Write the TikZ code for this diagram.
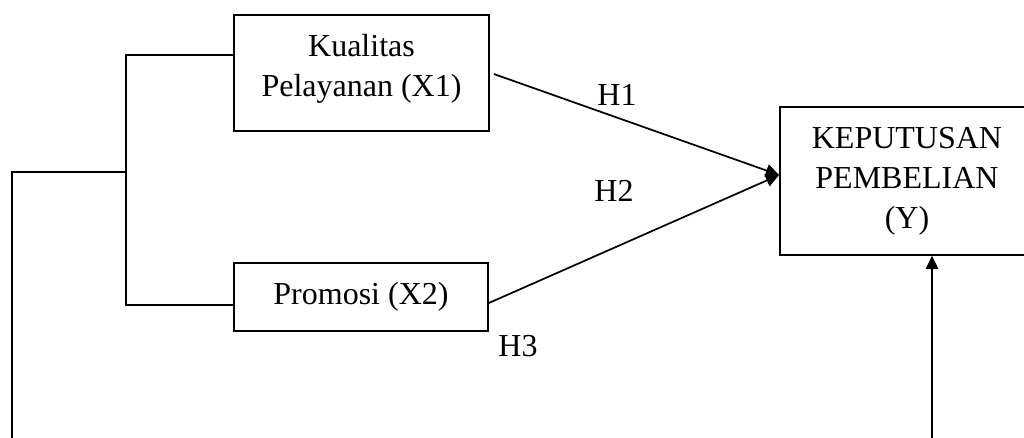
\documentclass[tikz,border=0pt]{standalone}
\usepackage{fontspec}
\setmainfont{Liberation Serif}
\usetikzlibrary{arrows.meta,calc}
\begin{document}
\begin{tikzpicture}[x=0.75pt,y=-0.75pt,
  txt/.style={font=\fontsize{24pt}{30pt}\selectfont},
  box/.style={txt, draw=black, line width=1.3pt, rectangle, align=center, inner sep=0pt},
  conn/.style={draw=black, line width=1.3pt},
  arr/.style={conn, -{Triangle[length=10pt,width=9.5pt]}},
  lbl/.style={txt, inner sep=0pt}]
\useasboundingbox (0,0) rectangle (1024,438);
\node[box, minimum width=191.25pt, minimum height=87pt] (x1) at (361.5,73)
  {\raisebox{3.5pt}[\height][\depth]{\begin{tabular}{@{}c@{}}Kualitas\\Pelayanan (X1)\end{tabular}}};
\node[box, minimum width=190.5pt, minimum height=51pt] (x2) at (361,297) {Promosi (X2)};
\node[box, minimum width=190.5pt, minimum height=111pt] (y) at (907,181) {KEPUTUSAN\\PEMBELIAN\\(Y)};
\coordinate (tip) at ($(y.west)+(0,-6)$);
\coordinate (bot) at (932,438);
\coordinate (j) at (126,172);
\coordinate (l) at (12,438);
\draw[arr] ($(x1.east)+(4,1)$) -- (tip);
\draw[arr] ($(x2.east)+(0,6)$) -- (tip);
\draw[arr] (bot) -- (bot |- y.south);
\draw[conn] ($(x1.west)+(0,-18)$) -| ($(j)+(0,133)$) -- ($(x2.west)+(0,8)$);
\draw[conn] (l) |- (j);
\node[lbl] (h1) at (617,95) {H1};
\node[lbl] (h2) at (614,191) {H2};
\node[lbl] (h3) at (518,346) {H3};
\end{tikzpicture}
\end{document}
